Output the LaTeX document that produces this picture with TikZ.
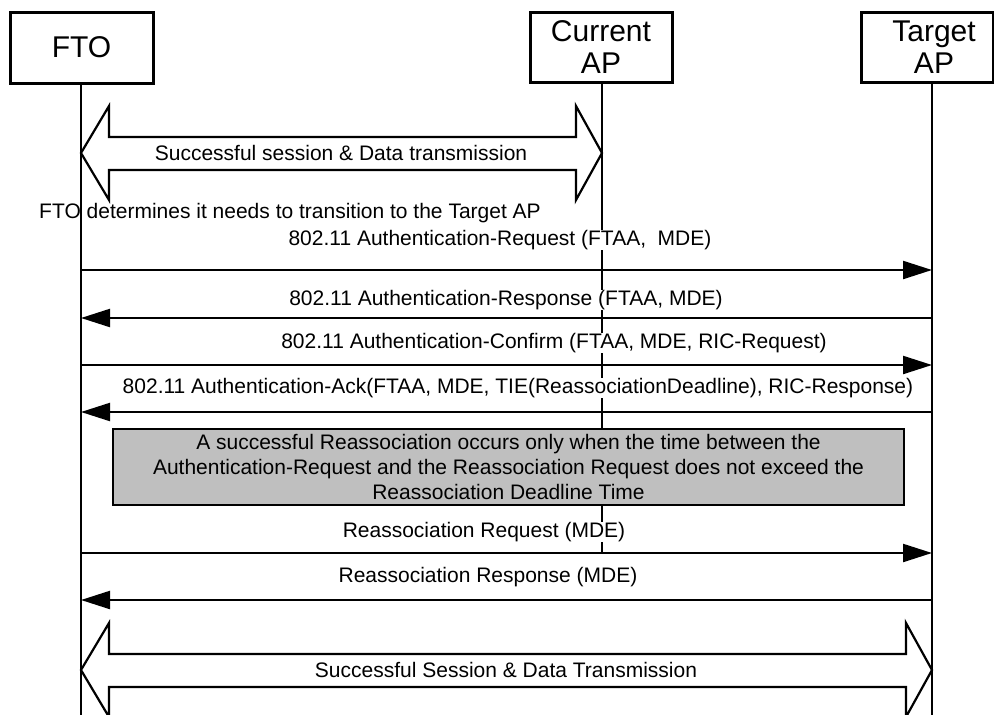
\documentclass[tikz,border=0pt]{standalone}
\usepackage{fontspec}
\setmainfont{Liberation Sans}
\usetikzlibrary{arrows.meta}
\begin{document}
\begin{tikzpicture}[x=1pt,y=-1pt,
  actor/.style={draw,line width=3pt,inner sep=0pt,align=center,font=\fontsize{30}{32}\selectfont},
  life/.style={line width=2.2pt},
  msg/.style={line width=2.2pt,-{Triangle[length=29pt,width=18pt]}},
  lbl/.style={font=\fontsize{21}{25}\selectfont,fill=white,inner sep=0.5pt},
  plain/.style={font=\fontsize{21}{25}\selectfont,inner sep=0pt},
  bigarrow/.style={draw,line width=2.2pt,fill=white,line join=miter},
  note/.style={draw,line width=2.2pt,fill=black!25,align=center,inner sep=0pt,font=\fontsize{21}{25}\selectfont}]
\useasboundingbox (0,0) rectangle (994,715);

% actors
\node[actor,minimum width=143pt,minimum height=71pt] (fto) at (81.5,47.5) {FTO};
\node[actor,minimum width=142pt,minimum height=70pt] (cap) at (601,47) {Current\\AP};
\node[actor,minimum width=132pt,minimum height=70pt] (tap) at (927,47) {\hspace*{14pt}Target\\\hspace*{14pt}AP};

% lifeline coordinates
\coordinate (fEnd) at (81,715);
\coordinate (cEnd) at (602,553);
\coordinate (tEnd) at (932,715);
\coordinate (fTop) at (81,83);
\coordinate (cTop) at (602,82);
\coordinate (tTop) at (932,82);
\draw[life] (fTop) -- (fEnd);
\draw[life] (cTop) -- (cEnd);
\draw[life] (tTop) -- (tEnd);

% top block arrow
\draw[bigarrow] (81,153) -- (109,106) -- (109,137) -- (576,137) -- (576,106) -- (602,153)
  -- (576,200) -- (576,170) -- (109,170) -- (109,200) -- cycle;
\node[plain] (s1) at (341,153) {Successful session \& Data transmission};

\node[plain] (det) at (290,213) {FTO determines it needs to transition to the Target AP};

% messages
\foreach \n/\y in {1/270,2/318,3/365,4/412,5/553,6/600}{
  \coordinate (f\n) at (81,\y);
  \coordinate (t\n) at (932,\y);
}
\draw[msg] (f1) -- (t1);
\draw[msg] (t2) -- (f2);
\draw[msg] (f3) -- (t3);
\draw[msg] (t4) -- (f4);

\node[lbl] (m1) at (500,240) {802.11 Authentication-Request (FTAA,\ \ MDE)};
\node[lbl] (m2) at (506,300) {802.11 Authentication-Response (FTAA, MDE)};
\node[lbl] (m3) at (554,343) {802.11 Authentication-Confirm (FTAA, MDE, RIC-Request)};
\node[lbl] (m4) at (518,388) {802.11 Authentication-Ack(FTAA, MDE, TIE(ReassociationDeadline), RIC-Response)};

% note
\node[note,minimum width=791pt,minimum height=76pt] (nt) at (508.5,467) {A successful Reassociation occurs only when the time between the\\Authentication-Request and the Reassociation Request does not exceed the\\Reassociation Deadline Time};

\draw[msg] (f5) -- (t5);
\draw[msg] (t6) -- (f6);
\node[lbl] (m5) at (484,532) {Reassociation Request (MDE)};
\node[lbl] (m6) at (488,577) {Reassociation Response (MDE)};

% bottom block arrow
\draw[bigarrow] (81,670) -- (109,623) -- (109,654) -- (906,654) -- (906,623) -- (932,670)
  -- (906,717) -- (906,687) -- (109,687) -- (109,717) -- cycle;
\node[plain] (s2) at (506,670) {Successful Session \& Data Transmission};
\end{tikzpicture}
\end{document}
